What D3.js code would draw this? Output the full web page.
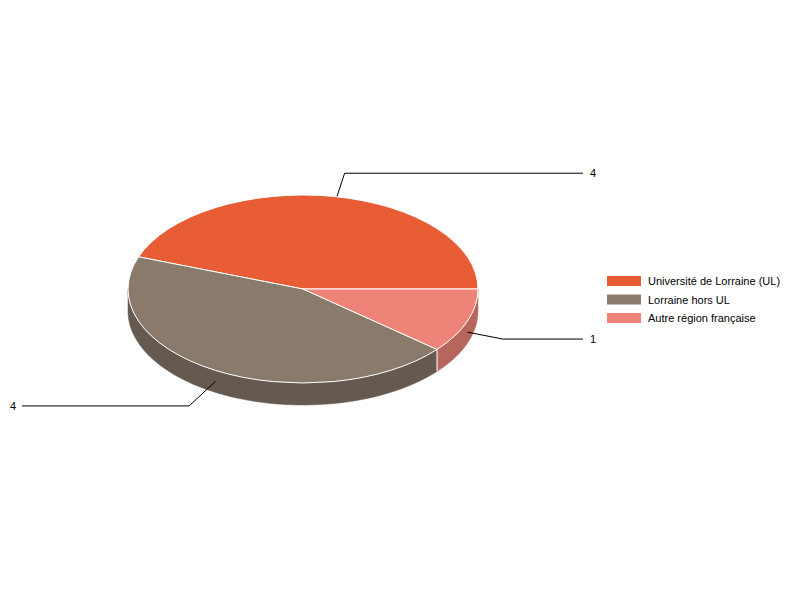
<!DOCTYPE html>
<html>
<head>
<meta charset="utf-8">
<script src="https://d3js.org/d3.v7.min.js"></script>
<style>
  body { margin: 0; background: #fff; }
  text { font-family: "Liberation Sans", Arial, sans-serif; font-size: 11px; fill: #000; }
</style>
</head>
<body>
<div id="chart"></div>
<script>
// data
var categories = ["Université de Lorraine (UL)", "Lorraine hors UL", "Autre région française"];
var values = [4, 4, 1];
var topColors = ["#e85c36", "#8a7a6c", "#ee8377"];
var sideColors = ["#ad4528", "#655950", "#b7665e"];

var width = 800, height = 600;
var cx = 303, cy = 289, rx = 175, ry = 94, depth = 22;
var tickLen = 36;

var svg = d3.select("#chart").append("svg")
    .attr("width", width)
    .attr("height", height);

// slices go counter-clockwise on screen from 3 o'clock
var pie = d3.pie().sort(null).startAngle(0).endAngle(-2 * Math.PI);
var arcs = pie(values).map(function (d, i) {
  return { i: i, value: d.value, t0: d.startAngle, t1: d.endAngle };
});

function pt(t, dy) {
  return [cx + rx * Math.cos(t), cy + ry * Math.sin(t) + (dy || 0)];
}

var lineLayerBack = svg.append("g");
var pieLayer = svg.append("g");
var lineLayerFront = svg.append("g");

// side walls (only the front half is visible)
arcs.forEach(function (a) {
  var lo = a.t1 + 2 * Math.PI, hi = a.t0 + 2 * Math.PI;
  var s = Math.max(lo, 0), e = Math.min(hi, Math.PI);
  if (e <= s) return;
  var steps = d3.range(s, e, (e - s) / 60).concat([e]);
  var top = steps.map(function (t) { return pt(t, 0); });
  var bot = steps.slice().reverse().map(function (t) { return pt(t, depth); });
  pieLayer.append("path")
      .attr("d", d3.line()(top.concat(bot)) + "Z")
      .attr("fill", sideColors[a.i])
      .attr("stroke", sideColors[a.i])
      .attr("stroke-width", 0.5);
});

// white separators on the side at slice boundaries
arcs.forEach(function (a) {
  var t = (a.t0 + 2 * Math.PI) % (2 * Math.PI);
  if (t > 0 && t < Math.PI) {
    var p = pt(t, 0), q = pt(t, depth);
    pieLayer.append("line")
        .attr("x1", p[0]).attr("y1", p[1])
        .attr("x2", q[0]).attr("y2", q[1])
        .attr("stroke", "#fff").attr("stroke-width", 1);
  }
});

// top faces
arcs.forEach(function (a) {
  var p0 = pt(a.t0), p1 = pt(a.t1);
  var large = Math.abs(a.t1 - a.t0) > Math.PI ? 1 : 0;
  var d = "M" + cx + "," + cy + "L" + p0[0] + "," + p0[1] +
          "A" + rx + "," + ry + " 0 " + large + " 0 " + p1[0] + "," + p1[1] + "Z";
  pieLayer.append("path")
      .attr("d", d)
      .attr("fill", topColors[a.i])
      .attr("stroke", "#fff")
      .attr("stroke-width", 1)
      .attr("stroke-linejoin", "round");
});

// labels with leader lines
arcs.forEach(function (a) {
  var tm = (a.t0 + a.t1) / 2;
  var start = pt(tm, depth / 2);
  var ang = Math.atan2(ry * Math.sin(tm), rx * Math.cos(tm));
  var elbow = [start[0] + tickLen * Math.cos(ang), start[1] + tickLen * Math.sin(ang)];
  var right = Math.cos(tm) >= 0;
  var endX = right ? 583 : 22;
  var layer = Math.sin(tm) < 0 ? lineLayerBack : lineLayerFront;
  layer.append("path")
      .attr("d", d3.line()([start, elbow, [endX, elbow[1]]]))
      .attr("fill", "none")
      .attr("stroke", "#000")
      .attr("stroke-width", 1);
  svg.append("text")
      .attr("x", right ? endX + 7 : endX - 6)
      .attr("y", elbow[1] + 4)
      .attr("text-anchor", right ? "start" : "end")
      .text(a.value);
});

// legend
var legend = svg.append("g").attr("transform", "translate(607,276)");
categories.forEach(function (c, i) {
  var g = legend.append("g").attr("transform", "translate(0," + (i * 18.5) + ")");
  g.append("rect")
      .attr("width", 34).attr("height", 10)
      .attr("fill", topColors[i]);
  g.append("text")
      .attr("x", 41).attr("y", 9)
      .text(c);
});
</script>
</body>
</html>
